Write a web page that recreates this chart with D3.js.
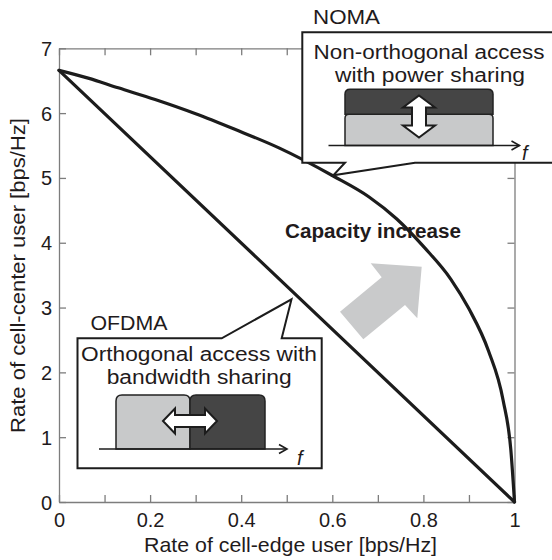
<!DOCTYPE html>
<html>
<head>
<meta charset="utf-8">
<script src="https://cdn.jsdelivr.net/npm/d3@7"></script>
<style>
  html, body { margin: 0; padding: 0; background: #fff; }
  svg { display: block; font-family: "Liberation Sans", Arial, Helvetica, sans-serif; }
</style>
</head>
<body>
<svg id="chart" width="552" height="560"></svg>
<script>
// Capacity region: rate of cell-edge user (x) vs rate of cell-center user (y), bps/Hz
const nomaEdge   = [0, 0.064, 0.13, 0.211, 0.30, 0.386, 0.484, 0.602, 0.68, 0.741, 0.803, 0.86, 0.90, 0.943, 0.975, 0.992, 1];
const nomaCenter = [6.66, 6.54, 6.39, 6.21, 5.99, 5.75, 5.46, 5.03, 4.71, 4.37, 3.92, 3.44, 2.98, 2.33, 1.57, 0.80, 0];
const ofdmaEdge   = [0, 1];
const ofdmaCenter = [6.66, 0];

const xTicks = [0, 0.1, 0.2, 0.3, 0.4, 0.5, 0.6, 0.7, 0.8, 0.9, 1];
const xTickLabels = ["0", "", "0.2", "", "0.4", "", "0.6", "", "0.8", "", "1"];
const yTicks = [0, 1, 2, 3, 4, 5, 6, 7];
const yTickLabels = ["0", "1", "2", "3", "4", "5", "6", "7"];

const xTitle = "Rate of cell-edge user [bps/Hz]";
const yTitle = "Rate of cell-center user [bps/Hz]";
const nomaTitle = "NOMA";
const nomaLines = ["Non-orthogonal access", "with power sharing"];
const ofdmaTitle = "OFDMA";
const ofdmaLines = ["Orthogonal access with", "bandwidth sharing"];
const gainText = "Capacity increase";

const svg = d3.select("#chart");
const frame = { left: 59, right: 514.5, top: 48.3, bottom: 502 };
const x = d3.scaleLinear().domain([0, 1]).range([frame.left, frame.right]);
const y = d3.scaleLinear().domain([0, 7]).range([frame.bottom, frame.top]);

const ink = "#1c1c1c";
const axisGray = "#7d7d7d";
const textColor = "#1f1b1c";
const FS = 21;      // titles
const BOX_FS = 20;  // callout text
const TICK_FS = 20; // tick labels

function styleAxis(g) {
  g.attr("font-family", null).attr("font-size", TICK_FS);
  g.selectAll("path.domain").attr("stroke", axisGray).attr("stroke-width", 1.3);
  g.selectAll(".tick line").attr("stroke", axisGray).attr("stroke-width", 1.3);
  g.selectAll(".tick text").attr("fill", textColor);
}

// frame with inward ticks on all four sides
svg.append("g")
  .attr("transform", `translate(0,${frame.bottom})`)
  .call(d3.axisBottom(x).tickValues(xTicks).tickSizeInner(-7).tickSizeOuter(0)
    .tickFormat((d, i) => xTickLabels[i]))
  .call(styleAxis)
  .call(g => g.selectAll(".tick text").attr("y", 11).attr("dy", "0.71em"));

svg.append("g")
  .attr("transform", `translate(0,${frame.top})`)
  .call(d3.axisTop(x).tickValues(xTicks).tickSizeInner(-7).tickSizeOuter(0).tickFormat(""))
  .call(styleAxis);

svg.append("g")
  .attr("transform", `translate(${frame.left},0)`)
  .call(d3.axisLeft(y).tickValues(yTicks).tickSizeInner(-7).tickSizeOuter(0)
    .tickFormat((d, i) => yTickLabels[i]))
  .call(styleAxis)
  .call(g => g.selectAll(".tick text").attr("x", -7).attr("dy", "0.35em"));

svg.append("g")
  .attr("transform", `translate(${frame.right},0)`)
  .call(d3.axisRight(y).tickValues(yTicks).tickSizeInner(-7).tickSizeOuter(0).tickFormat(""))
  .call(styleAxis);

// axis titles
svg.append("text")
  .attr("x", 144).attr("y", 551.5)
  .attr("font-size", FS).attr("fill", textColor)
  .attr("textLength", 293).attr("lengthAdjust", "spacingAndGlyphs")
  .text(xTitle);

svg.append("text")
  .attr("transform", "translate(25,433) rotate(-90)")
  .attr("font-size", FS).attr("fill", textColor)
  .attr("textLength", 315).attr("lengthAdjust", "spacingAndGlyphs")
  .text(yTitle);

// rate-region boundaries
const line = d3.line().x(d => x(d[0])).y(d => y(d[1]));
svg.append("path")
  .datum(ofdmaEdge.map((e, i) => [e, ofdmaCenter[i]]))
  .attr("d", line)
  .attr("fill", "none").attr("stroke", ink).attr("stroke-width", 3.2)
  .attr("stroke-linecap", "round");

svg.append("path")
  .datum(nomaEdge.map((e, i) => [e, nomaCenter[i]]))
  .attr("d", line.curve(d3.curveMonotoneX))
  .attr("fill", "none").attr("stroke", ink).attr("stroke-width", 3.2)
  .attr("stroke-linejoin", "round").attr("stroke-linecap", "round");

// big gray arrow pointing outward
svg.append("polygon")
  .attr("points", [[340, 311.7], [363.3, 339.3], [405, 305], [417.3, 318.3],
                   [421.7, 266.7], [370.7, 263.3], [381.7, 277.3]].map(p => p.join(",")).join(" "))
  .attr("fill", "#c9cacb");

svg.append("text")
  .attr("x", 285).attr("y", 238)
  .attr("font-size", 20).attr("font-weight", "bold").attr("fill", textColor)
  .attr("textLength", 176).attr("lengthAdjust", "spacingAndGlyphs")
  .text(gainText);

// helpers for the small spectrum sketches
function topRounded(x0, y0, x1, y1, r) {
  return `M${x0},${y1}V${y0 + r}Q${x0},${y0} ${x0 + r},${y0}H${x1 - r}Q${x1},${y0} ${x1},${y0 + r}V${y1}Z`;
}
function doubleArrowV(cx, cy, L, h, W, w) {
  return [[cx, cy - L], [cx + W, cy - L + h], [cx + w, cy - L + h], [cx + w, cy + L - h],
          [cx + W, cy + L - h], [cx, cy + L], [cx - W, cy + L - h], [cx - w, cy + L - h],
          [cx - w, cy - L + h], [cx - W, cy - L + h]].map(p => p.join(",")).join(" ");
}
function doubleArrowH(cx, cy, L, h, W, w) {
  return [[cx - L, cy], [cx - L + h, cy - W], [cx - L + h, cy - w], [cx + L - h, cy - w],
          [cx + L - h, cy - W], [cx + L, cy], [cx + L - h, cy + W], [cx + L - h, cy + w],
          [cx - L + h, cy + w], [cx - L + h, cy + W]].map(p => p.join(",")).join(" ");
}
function freqAxis(g, x0, x1, yy, fx, fy) {
  g.append("line").attr("x1", x0).attr("x2", x1).attr("y1", yy).attr("y2", yy)
    .attr("stroke", ink).attr("stroke-width", 1.6);
  g.append("polyline")
    .attr("points", `${x1 - 8},${yy - 4.5} ${x1},${yy} ${x1 - 8},${yy + 4.5}`)
    .attr("fill", "none").attr("stroke", ink).attr("stroke-width", 1.6);
  g.append("text").attr("x", fx).attr("y", fy)
    .attr("font-size", 20).attr("font-style", "italic").attr("fill", textColor).text("f");
}
function textLine(g, str, xx, yy, len, size) {
  g.append("text").attr("x", xx).attr("y", yy)
    .attr("font-size", size).attr("fill", textColor)
    .attr("textLength", len).attr("lengthAdjust", "spacingAndGlyphs")
    .text(str);
}

// NOMA callout
const noma = svg.append("g");
textLine(noma, nomaTitle, 313, 23.5, 67, FS);
noma.append("path")
  .attr("d", "M302.3,32.3H558V162.7H415L333.3,175.3L345,162.7H302.3Z")
  .attr("fill", "#fff").attr("stroke", ink).attr("stroke-width", 2).attr("stroke-linejoin", "miter");
textLine(noma, nomaLines[0], 313.5, 59, 231, BOX_FS);
textLine(noma, nomaLines[1], 335, 81.5, 190, BOX_FS);
noma.append("path").attr("d", topRounded(345, 114.3, 493, 145.5, 4))
  .attr("fill", "#c8c9ca").attr("stroke", "#222").attr("stroke-width", 1.5);
noma.append("path").attr("d", topRounded(345, 89.3, 493, 114.3, 5))
  .attr("fill", "#454545").attr("stroke", "#222").attr("stroke-width", 1.5);
freqAxis(noma, 328.5, 519.5, 145.5, 522, 160);
noma.append("polygon").attr("points", doubleArrowV(419, 116.5, 21, 12, 16, 7))
  .attr("fill", "#fff").attr("stroke", ink).attr("stroke-width", 2).attr("stroke-linejoin", "miter");

// OFDMA callout
const ofdma = svg.append("g");
textLine(ofdma, ofdmaTitle, 90.5, 330, 77, FS);
ofdma.append("path")
  .attr("d", "M77.5,338.3H221.7L291.5,299.3L281.7,338.3H321.7V468.3H77.5Z")
  .attr("fill", "#fff").attr("stroke", ink).attr("stroke-width", 2).attr("stroke-linejoin", "miter");
textLine(ofdma, ofdmaLines[0], 81, 360.5, 236, BOX_FS);
textLine(ofdma, ofdmaLines[1], 106.7, 383.5, 185, BOX_FS);
ofdma.append("path").attr("d", topRounded(116, 395, 190, 449, 6))
  .attr("fill", "#c8c9ca").attr("stroke", "#222").attr("stroke-width", 1.5);
ofdma.append("path").attr("d", topRounded(190, 395, 265, 449, 6))
  .attr("fill", "#454545").attr("stroke", "#222").attr("stroke-width", 1.5);
freqAxis(ofdma, 99, 287, 449, 297, 465);
ofdma.append("polygon").attr("points", doubleArrowH(190, 421, 27, 12, 12.5, 6))
  .attr("fill", "#fff").attr("stroke", ink).attr("stroke-width", 2).attr("stroke-linejoin", "miter");
</script>
</body>
</html>
